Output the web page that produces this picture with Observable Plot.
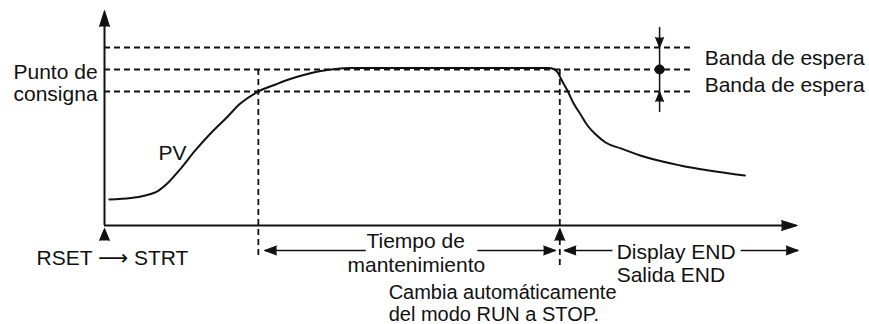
<!DOCTYPE html>
<html>
<head>
<meta charset="utf-8">
<script src="https://cdn.jsdelivr.net/npm/d3@7"></script>
<script src="https://cdn.jsdelivr.net/npm/@observablehq/plot@0.6"></script>
<style>
  html, body { margin: 0; padding: 0; background: #fff; }
  #chart svg { display: block; }
</style>
</head>
<body>
<div id="chart"></div>
<script>
// ---- data (time units t, process value units v; setpoint = 100) ----
const setpoint = 100;
const band = 14.1;
const holdStart = 22.2;   // PV enters the wait band
const holdEnd = 65.7;     // hold time elapsed -> RUN to STOP
const axisEndT = 100;
const axisTopV = 137.8;

// PV curve
const pvT = [0.7, 3.8, 5.9, 7.8, 9.2, 11.0, 13.1, 15.3, 17.5, 19.6, 22.2, 24.7, 26.8, 29.0, 31.2, 33.3, 35.5, 49.9, 64.1, 64.8, 65.4, 66.0, 66.8, 67.7, 68.7, 69.7, 70.9, 72.3, 74.5, 77.3, 83.1, 92.4];
const pvV = [16.7, 17.6, 19.2, 22.4, 27.6, 36.5, 48.1, 59.0, 68.6, 78.2, 85.9, 90.4, 93.9, 96.8, 99.0, 100.3, 101.0, 101.0, 101.0, 100.3, 98.1, 92.9, 86.5, 78.2, 71.2, 64.1, 58.3, 53.2, 49.4, 44.9, 38.5, 32.1];
const pv = pvT.map((t, i) => ({t, v: pvV[i]}));

// reference levels: upper band, setpoint, lower band
const levels = [setpoint + band, setpoint, setpoint - band];
const levelsEndT = 85.0;

// dimension row (below the time axis)
const dimV = -16;
const dimSegments = [
  {t1: 23.1, t2: 37.7}, {t1: 53.8, t2: 65.1},
  {t1: 66.3, t2: 73.3}, {t1: 91.8, t2: 100.1}
];
const dimHeads = [
  {t: 23.1, v: dimV, rot: 270}, {t: 65.1, v: dimV, rot: 90},
  {t: 66.3, v: dimV, rot: 270}, {t: 100.1, v: dimV, rot: 90}
];
const axisHeads = [{t: 0, v: axisTopV, rot: 0}, {t: axisEndT, v: 0, rot: 90}];
const eventHeads = [{t: 0, v: -1.9, rot: 0}, {t: holdEnd, v: -1.9, rot: 0}];
const bandT = 80.1;
const bandHeads = [{t: bandT, v: setpoint + band, rot: 180}, {t: bandT, v: setpoint - band, rot: 0}];

// text labels
const labelsEnd = [
  {text: "Punto de", t: -1.0, v: 94.2},
  {text: "consigna", t: -1.0, v: 80.1}
];
const labelsMiddle = [
  {text: "Tiempo de", t: 44.9, v: -14.7},
  {text: "mantenimiento", t: 45.0, v: -30.1}
];
const labelsStart = [
  {text: "PV", t: 7.8, v: 41.7},
  {text: "RSET \u27F6 STRT", t: -9.8, v: -25.6},
  {text: "Display END", t: 73.9, v: -21.2},
  {text: "Salida END", t: 73.9, v: -36.5},
  {text: "Banda de espera", t: 86.6, v: 103.2},
  {text: "Banda de espera", t: 86.6, v: 85.3}
];
const labelsNote = [
  {text: "Cambia autom\u00e1ticamente", t: 41.0, v: -46.8},
  {text: "del modo RUN a STOP.", t: 41.0, v: -61.5}
];

// ---- chart ----
const fam = "Liberation Sans, Arial, Helvetica, DejaVu Sans, sans-serif";
const font = {fontFamily: fam, fontSize: 21, fill: "#111", lineAnchor: "bottom"};
const dash = {stroke: "#111", strokeWidth: 1.8, strokeDasharray: "6,4"};
const head = (data, length, r) => Plot.vector(data, {
  x: "t", y: "v", rotate: "rot", length, r, shape: "spike", anchor: "end",
  fill: "#111", stroke: "#111", strokeWidth: 1, fillOpacity: 1
});

const chart = Plot.plot({
  width: 869,
  height: 324,
  x: {domain: [0, 100], range: [104, 797], axis: null},
  y: {domain: [0, 100], range: [225, 69], axis: null},
  style: {background: "#fff", overflow: "visible"},
  marks: [
    // dashed reference levels
    Plot.ruleY(levels, {y: d => d, x1: 0, x2: levelsEndT, ...dash}),
    // dashed event verticals
    Plot.ruleX([holdStart], {x: d => d, y1: setpoint, y2: -20.5, ...dash}),
    Plot.ruleX([holdEnd], {x: d => d, y1: setpoint, y2: -27.6, ...dash}),
    // axes
    Plot.ruleX([0], {x: d => d, y1: 0, y2: axisTopV - 8, stroke: "#111", strokeWidth: 2}),
    Plot.ruleY([0], {y: d => d, x1: 0, x2: axisEndT - 1, stroke: "#111", strokeWidth: 2}),
    head(axisHeads, 16, 5),
    head(eventHeads, 12, 5),
    // PV curve
    Plot.line(pv, {x: "t", y: "v", curve: "monotone-x", stroke: "#111", strokeWidth: 2}),
    // dimension lines
    Plot.link(dimSegments, {x1: "t1", x2: "t2", y1: dimV, y2: dimV, stroke: "#111", strokeWidth: 1.6}),
    head(dimHeads, 12, 4.5),
    // band marker
    Plot.ruleX([bandT], {x: d => d, y1: 126.9, y2: 72.4, stroke: "#111", strokeWidth: 1.5}),
    head(bandHeads, 10, 4),
    Plot.dot([{t: bandT, v: setpoint}], {x: "t", y: "v", r: 5, fill: "#111", stroke: "none"}),
    // labels
    Plot.text(labelsEnd, {x: "t", y: "v", text: "text", textAnchor: "end", ...font}),
    Plot.text(labelsMiddle, {x: "t", y: "v", text: "text", textAnchor: "middle", ...font}),
    Plot.text(labelsStart, {x: "t", y: "v", text: "text", textAnchor: "start", ...font}),
    Plot.text(labelsNote, {x: "t", y: "v", text: "text", textAnchor: "start", ...font, fontSize: 20})
  ]
});
document.getElementById("chart").appendChild(chart);
</script>
</body>
</html>
